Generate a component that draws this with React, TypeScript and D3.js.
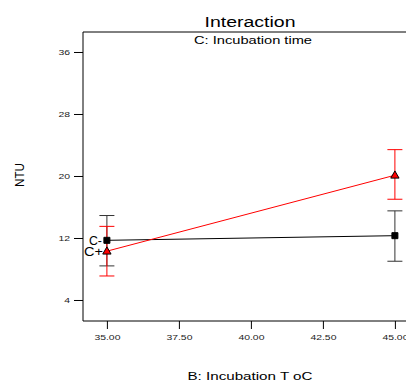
import React, { useEffect, useRef } from 'react';
import * as d3 from 'd3';

// B: Incubation temperature levels
const temps = [35, 45];
const xTicks = [35, 37.5, 40, 42.5, 45];
const yTicks = [4, 12, 20, 28, 36];

// C- (low incubation time) and C+ (high incubation time)
const cMinusMean = [11.7, 12.3];
const cMinusLow = [8.4, 9.0];
const cMinusHigh = [14.9, 15.5];

const cPlusMean = [10.3, 20.1];
const cPlusLow = [7.1, 17.0];
const cPlusHigh = [13.5, 23.4];

const App = () => {
  const svgRef = useRef<SVGSVGElement | null>(null);

  useEffect(() => {
    if (!svgRef.current) return;
    const svg = d3.select(svgRef.current);
    svg.selectAll('*').remove();

    const W = 406;
    const H = 381;
    const left = 83;
    const top = 32;
    const bottom = 321;

    const x = d3.scaleLinear().domain([34.17, 45.83]).range([left, left + 11.66 * 28.8]);
    const y = d3.scaleLinear().domain([1.29, 38.58]).range([bottom, top]);

    const font = 'Liberation Sans, Arial, sans-serif';

    svg.attr('width', W).attr('height', H);

    // the reference text is drawn a bit wide, so stretch glyphs horizontally
    const widen = (sel: any, factor: number) => {
      sel.each(function (this: SVGTextElement) {
        const len = this.getComputedTextLength();
        d3.select(this).attr('textLength', len * factor).attr('lengthAdjust', 'spacingAndGlyphs');
      });
    };

    // frame: left, bottom and top lines (chart is cut on the right)
    svg.append('line').attr('x1', left).attr('x2', left).attr('y1', top).attr('y2', bottom)
      .attr('stroke', '#000').attr('stroke-width', 1);
    svg.append('line').attr('x1', left).attr('x2', W).attr('y1', bottom).attr('y2', bottom)
      .attr('stroke', '#000').attr('stroke-width', 1);
    svg.append('line').attr('x1', left).attr('x2', W).attr('y1', top).attr('y2', top)
      .attr('stroke', '#000').attr('stroke-width', 1);

    // y axis
    const yAxis = svg.append('g')
      .attr('transform', `translate(${left},0)`)
      .call(d3.axisLeft(y).tickValues(yTicks).tickSize(9).tickPadding(4).tickFormat(d3.format('d')));
    yAxis.select('.domain').remove();
    yAxis.selectAll('text').attr('font-family', font).attr('font-size', 8).attr('fill', '#222');
    widen(yAxis.selectAll('text'), 1.3);

    // x axis
    const xAxis = svg.append('g')
      .attr('transform', `translate(0,${bottom})`)
      .call(d3.axisBottom(x).tickValues(xTicks).tickSize(8).tickPadding(5).tickFormat(d3.format('.2f')));
    xAxis.select('.domain').remove();
    xAxis.selectAll('text').attr('font-family', font).attr('font-size', 8).attr('fill', '#222');
    widen(xAxis.selectAll('text'), 1.3);

    // titles
    svg.append('text').attr('x', 250).attr('y', 27).attr('text-anchor', 'middle')
      .attr('font-family', font).attr('font-size', 15.5)
      .attr('textLength', 91).attr('lengthAdjust', 'spacingAndGlyphs').text('Interaction');
    svg.append('text').attr('x', 253).attr('y', 44).attr('text-anchor', 'middle')
      .attr('font-family', font).attr('font-size', 11.5)
      .attr('textLength', 118).attr('lengthAdjust', 'spacingAndGlyphs').text('C: Incubation time');
    svg.append('text').attr('x', 250).attr('y', 380).attr('text-anchor', 'middle')
      .attr('font-family', font).attr('font-size', 11.5)
      .attr('textLength', 125).attr('lengthAdjust', 'spacingAndGlyphs').text('B: Incubation T oC');
    svg.append('text').attr('transform', 'translate(24,175) rotate(-90)').attr('text-anchor', 'middle')
      .attr('font-family', font).attr('font-size', 12)
      .attr('textLength', 24).attr('lengthAdjust', 'spacingAndGlyphs').text('NTU');

    const series = [
      { mean: cMinusMean, low: cMinusLow, high: cMinusHigh, color: '#333', marker: 'square' },
      { mean: cPlusMean, low: cPlusLow, high: cPlusHigh, color: '#ff0000', marker: 'triangle' },
    ];

    const line = d3.line<number>().x((_, i) => x(temps[i])).y(d => y(d));

    series.forEach(s => {
      // error bars
      temps.forEach((t, i) => {
        const g = svg.append('g').attr('stroke', s.color).attr('stroke-width', 1);
        g.append('line').attr('x1', x(t)).attr('x2', x(t)).attr('y1', y(s.low[i])).attr('y2', y(s.high[i]));
        g.append('line').attr('x1', x(t) - 7.5).attr('x2', x(t) + 7.5).attr('y1', y(s.low[i])).attr('y2', y(s.low[i]));
        g.append('line').attr('x1', x(t) - 7.5).attr('x2', x(t) + 7.5).attr('y1', y(s.high[i])).attr('y2', y(s.high[i]));
      });
    });

    series.forEach(s => {
      svg.append('path').datum(s.mean).attr('d', line)
        .attr('fill', 'none').attr('stroke', s.color === '#333' ? '#000' : s.color).attr('stroke-width', 1);
    });

    series.forEach(s => {
      const sym = d3.symbol().type(s.marker === 'square' ? d3.symbolSquare : d3.symbolTriangle)
        .size(s.marker === 'square' ? 36 : 30);
      svg.selectAll(null).data(s.mean).enter().append('path')
        .attr('d', sym)
        .attr('transform', (d, i) => `translate(${x(temps[i])},${y(d) + (s.marker === 'triangle' ? 0.5 : 0)})`)
        .attr('fill', s.marker === 'square' ? '#000' : '#ff0000')
        .attr('stroke', '#000').attr('stroke-width', 1);
    });

    // series labels
    svg.append('text').attr('x', x(35) - 5).attr('y', y(cMinusMean[0]) + 5).attr('text-anchor', 'end')
      .attr('font-family', font).attr('font-size', 12)
      .attr('textLength', 13).attr('lengthAdjust', 'spacingAndGlyphs').text('C-');
    svg.append('text').attr('x', x(35) - 4).attr('y', y(cPlusMean[0]) + 5).attr('text-anchor', 'end')
      .attr('font-family', font).attr('font-size', 12)
      .attr('textLength', 19).attr('lengthAdjust', 'spacingAndGlyphs').text('C+');
  }, []);

  return (
    <div style={{ position: 'absolute', left: 0, top: 0, width: 406, height: 381, background: '#fff' }}>
      <svg ref={svgRef} style={{ display: 'block' }} />
    </div>
  );
};

export default App;
